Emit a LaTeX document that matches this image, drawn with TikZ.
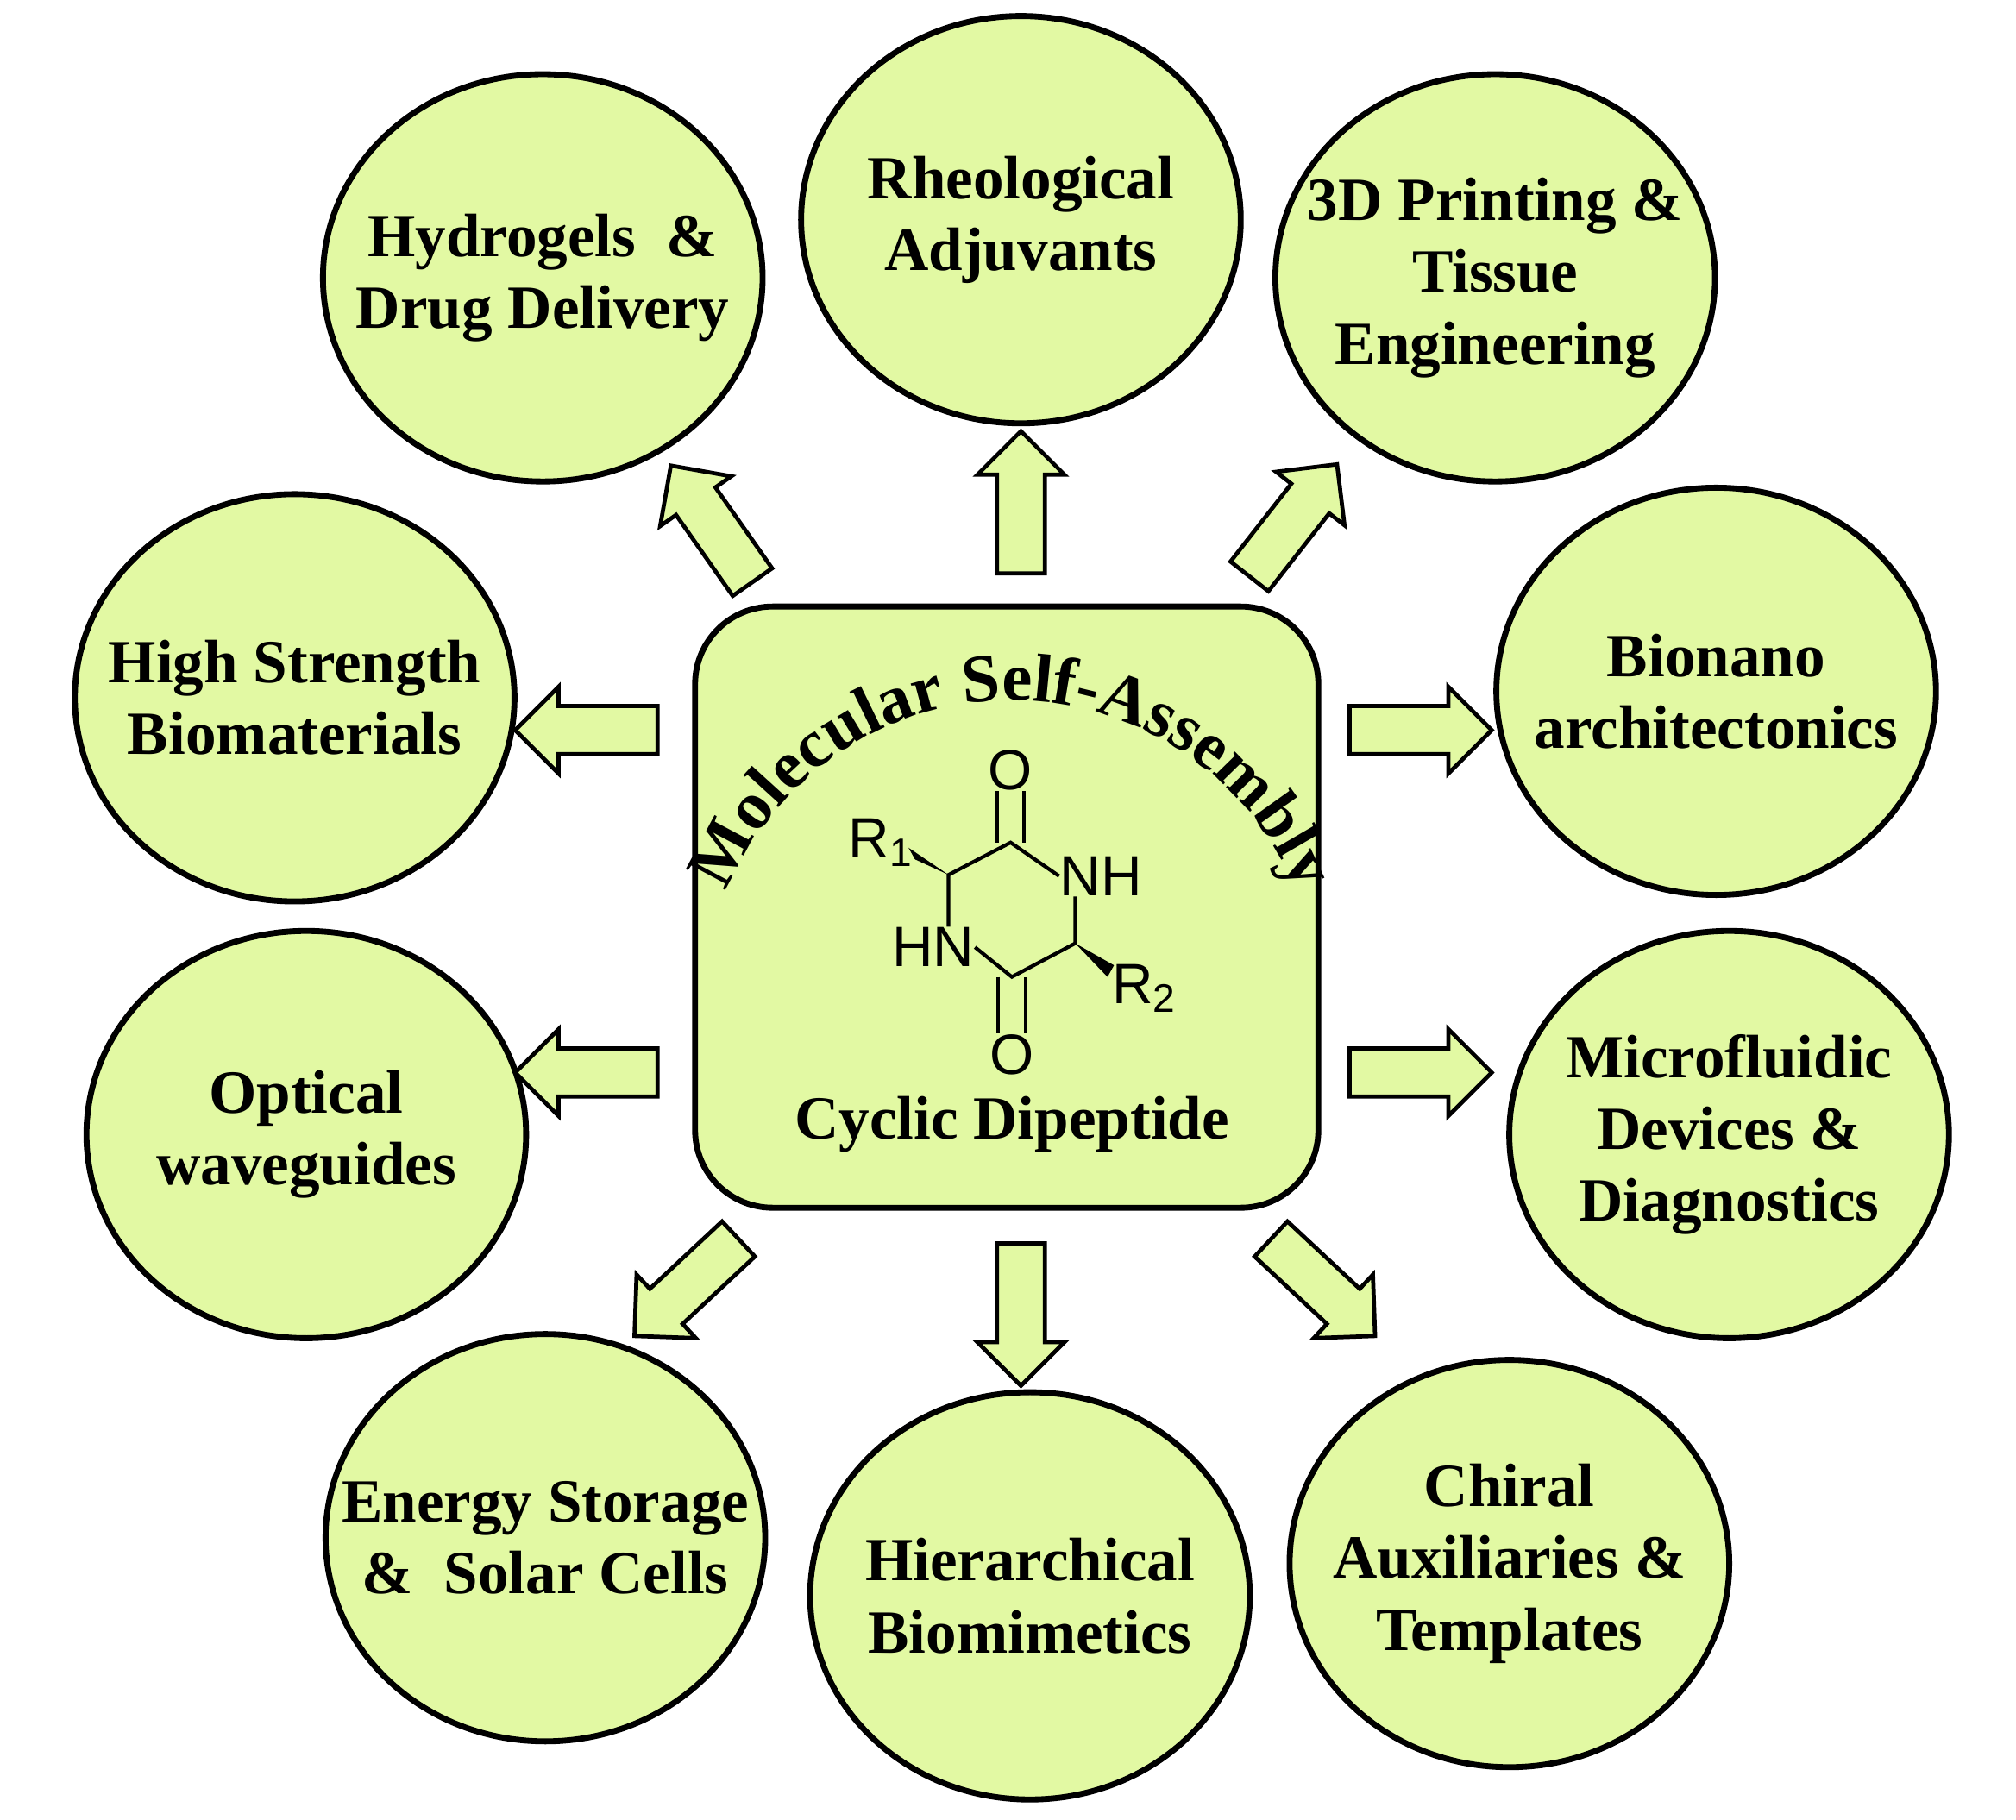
\documentclass[tikz,border=0pt]{standalone}
\usepackage{fontspec}
\setmainfont{Liberation Serif}
\setsansfont{Liberation Sans}
\usetikzlibrary{shapes.geometric,shapes.arrows,decorations.text}
\definecolor{leaf}{RGB}{226,249,163}

\tikzset{
  topic/.style={ellipse, draw=black, line width=1.3pt, fill=leaf, minimum width=3.4cm, minimum height=3.15cm, inner sep=0pt},
  caption/.style={align=center, inner sep=0pt, font=\fontsize{13.5}{15.8}\selectfont\bfseries},
  push/.style={single arrow, draw=black, line width=0.9pt, fill=leaf, minimum height=1.1cm, inner sep=0.17cm, single arrow head extend=0.15cm},
  chem/.style={font=\sffamily\fontsize{12.5}{13}\selectfont, inner sep=0pt},
}

\begin{document}
\begin{tikzpicture}[x=0.01cm,y=-0.01cm]
\useasboundingbox (0,0) rectangle (1560,1408);

% central box
\node[draw=black, line width=1.3pt, fill=leaf, rounded corners=0.6cm, minimum width=4.82cm, minimum height=4.65cm] (core) at (779,702) {};
\path[decorate, decoration={text along path, text align=center, text={|\fontsize{15}{18}\selectfont\bfseries|Molecular Self-Assembly}}]
  (783,780) ++(196:238) arc[start angle=196, end angle=344, radius=238];
\node[caption] (name) at (783,870) {Cyclic Dipeptide};

% cyclic dipeptide
\node[chem] (otop) at (782,596) {O};
\node[chem] (nh) at (852,678) {NH};
\node[chem] (hn) at (722,733) {HN};
\node[chem] (obot) at (783,816) {O};
\node[chem] (rone) at (682,652) {R\textsubscript{1}};
\node[chem] (rtwo) at (886,765) {R\textsubscript{2}};
\coordinate (ctop) at (782,652);
\coordinate (cleft) at (734,677);
\coordinate (cright) at (832,730);
\coordinate (cbot) at (783,756);
\draw[line width=0.8pt] (nh.west) -- (ctop) -- (cleft) -- (hn.north -| cleft);
\draw[line width=0.8pt] (hn.east) -- (cbot) -- (cright) -- (nh.south -| cright);
\draw[line width=0.8pt] ([xshift=-3]ctop) -- ([xshift=-3]otop.south) ([xshift=3]ctop) -- ([xshift=3]otop.south);
\draw[line width=0.8pt] ([xshift=-3]cbot) -- ([xshift=-3]obot.north) ([xshift=3]cbot) -- ([xshift=3]obot.north);
\fill (cleft) -- (703,656) -- (708,665) -- cycle;
\fill (cright) -- (862,747) -- (857,756) -- cycle;

% applications
\node[topic] (gel) at (420,215) {};
\node[topic] (rheo) at (790,170) {};
\node[topic] (print) at (1157,215) {};
\node[topic] (bionano) at (1328,535) {};
\node[topic] (micro) at (1338,878) {};
\node[topic] (chiral) at (1168,1210) {};
\node[topic] (hier) at (797,1235) {};
\node[topic] (energy) at (422,1190) {};
\node[topic] (optic) at (237,878) {};
\node[topic] (strength) at (228,540) {};
\node[caption] at (gel) {Hydrogels~ \&\\Drug Delivery};
\node[caption] at (rheo) {Rheological\\Adjuvants};
\node[caption] at (print) {3D Printing \&\\Tissue\\Engineering};
\node[caption] at (bionano) {Bionano\\architectonics};
\node[caption] at (micro) {Microfluidic\\Devices \&\\Diagnostics};
\node[caption] at (chiral) {Chiral\\Auxiliaries \&\\Templates};
\node[caption] at (hier) {Hierarchical\\Biomimetics};
\node[caption] at (energy) {Energy Storage\\\&~ Solar Cells};
\node[caption] at (optic) {Optical\\waveguides};
\node[caption] at (strength) {High Strength\\Biomaterials};

% block arrows
\node[push, rotate=90] (a1) at (790,398) {};
\node[push, rotate=125] (a2) at (556,413) {};
\node[push, rotate=52] (a3) at (995,410) {};
\node[push, rotate=0] (a4) at (1090,565) {};
\node[push, rotate=0] (a5) at (1090,830) {};
\node[push, rotate=180] (a6) at (463,565) {};
\node[push, rotate=180] (a7) at (463,830) {};
\node[push, rotate=-137] (a8) at (538,990) {};
\node[push, rotate=-90] (a9) at (790,1008) {};
\node[push, rotate=-43] (a10) at (1017,990) {};

\end{tikzpicture}
\end{document}
